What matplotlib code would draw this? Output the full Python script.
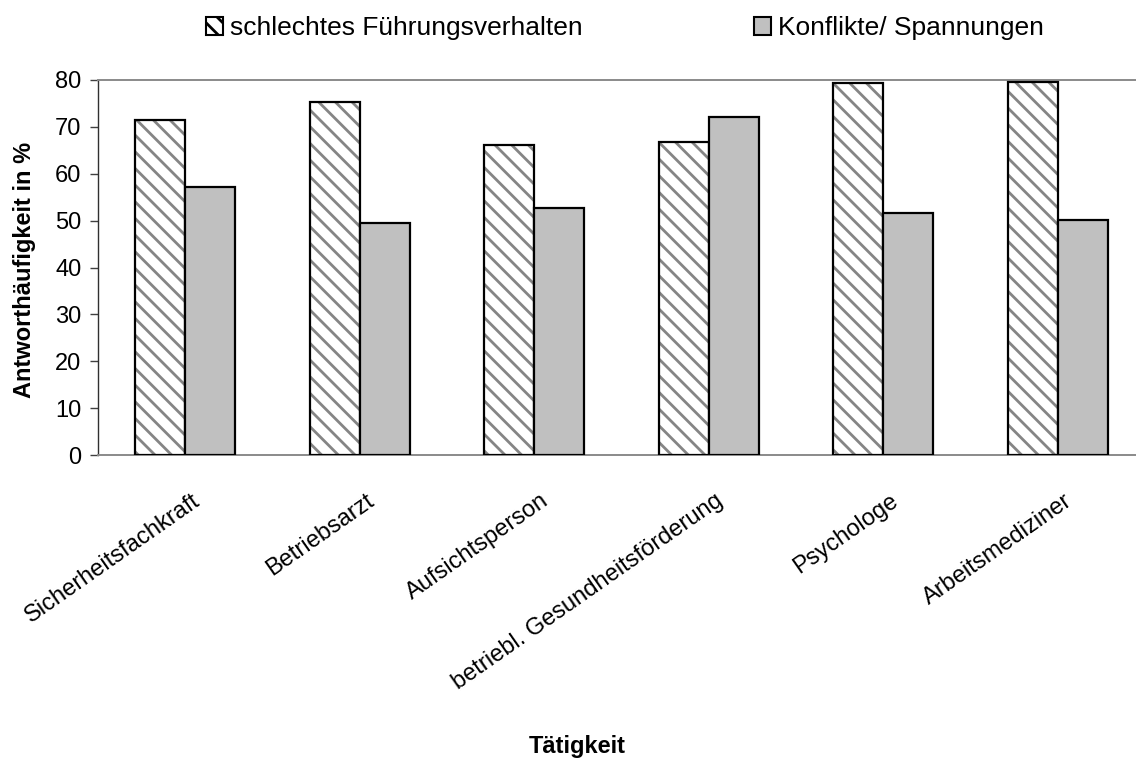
import numpy as np
import matplotlib
matplotlib.use("Agg")
import matplotlib.pyplot as plt
import matplotlib.transforms as mtrans
from matplotlib.patches import Patch

plt.rcParams['font.family'] = ['Liberation Sans', 'DejaVu Sans']
plt.rcParams['hatch.linewidth'] = 2.0

# Daten
kategorien = ["Sicherheitsfachkraft", "Betriebsarzt", "Aufsichtsperson",
              "betriebl. Gesundheitsförderung", "Psychologe", "Arbeitsmediziner"]
fuehrung = [71.4, 75.3, 66.1, 66.7, 79.3, 79.5]
konflikte = [57.2, 49.5, 52.6, 72.2, 51.7, 50.1]
serien = ["schlechtes Führungsverhalten", "Konflikte/ Spannungen"]

fig = plt.figure(figsize=(11.36, 7.6), dpi=100)
# Achse reicht rechts etwas über das Bild hinaus (wie im Original)
ax = fig.add_axes([98/1136, 1 - 455/760, 1047/1136, 375/760])

x = np.arange(len(kategorien))
w = 0.287

# schraffierte Balken: erst Schraffur grau, dann schwarzer Rand
ax.bar(x - w/2, fuehrung, w, color="white", edgecolor="#858585",
       hatch="\\\\", linewidth=0, zorder=2)
ax.bar(x - w/2, fuehrung, w, fill=False, edgecolor="black", linewidth=1.6, zorder=3)
ax.bar(x + w/2, konflikte, w, color="#c0c0c0", edgecolor="black", linewidth=1.6, zorder=3)

ax.set_xlim(-0.5, len(kategorien) - 0.5)
ax.set_ylim(0, 80)
ax.set_yticks(range(0, 81, 10))
ax.tick_params(axis="y", direction="out", length=6, width=1, color="#404040",
               labelsize=17, pad=6)
ax.tick_params(axis="x", length=0, pad=25)
ax.set_xticks(x)
ax.set_xticklabels(kategorien, rotation=35, ha="right", va="top",
                   rotation_mode="anchor", fontsize=17)
off = mtrans.ScaledTranslation(6/100, 0, fig.dpi_scale_trans)
for lab in ax.get_xticklabels():
    lab.set_transform(lab.get_transform() + off)

ax.spines["left"].set_color("#303030")
ax.spines["left"].set_linewidth(1.0)
for s in ["top", "bottom"]:
    ax.spines[s].set_color("#8a8a8a")
    ax.spines[s].set_linewidth(1.4)
ax.spines["right"].set_visible(False)

fig.text(25/1136, 1 - 270/760, "Antworthäufigkeit in %", rotation=90,
         ha="center", va="center", fontsize=17, fontweight="bold")
fig.text(577/1136, 1 - 747/760, "Tätigkeit", ha="center", va="center",
         fontsize=17, fontweight="bold")

handles = [Patch(facecolor="white", edgecolor="black", hatch="\\\\", linewidth=1.5),
           Patch(facecolor="#c0c0c0", edgecolor="black", linewidth=1.5)]
fig.legend(handles, serien, loc="center", bbox_to_anchor=(625/1136, 1 - 28/760),
           ncol=2, frameon=False, fontsize=19, handlelength=0.65, handleheight=0.65,
           handletextpad=0.27, columnspacing=6.5)

fig.savefig("out.png", dpi=100)
